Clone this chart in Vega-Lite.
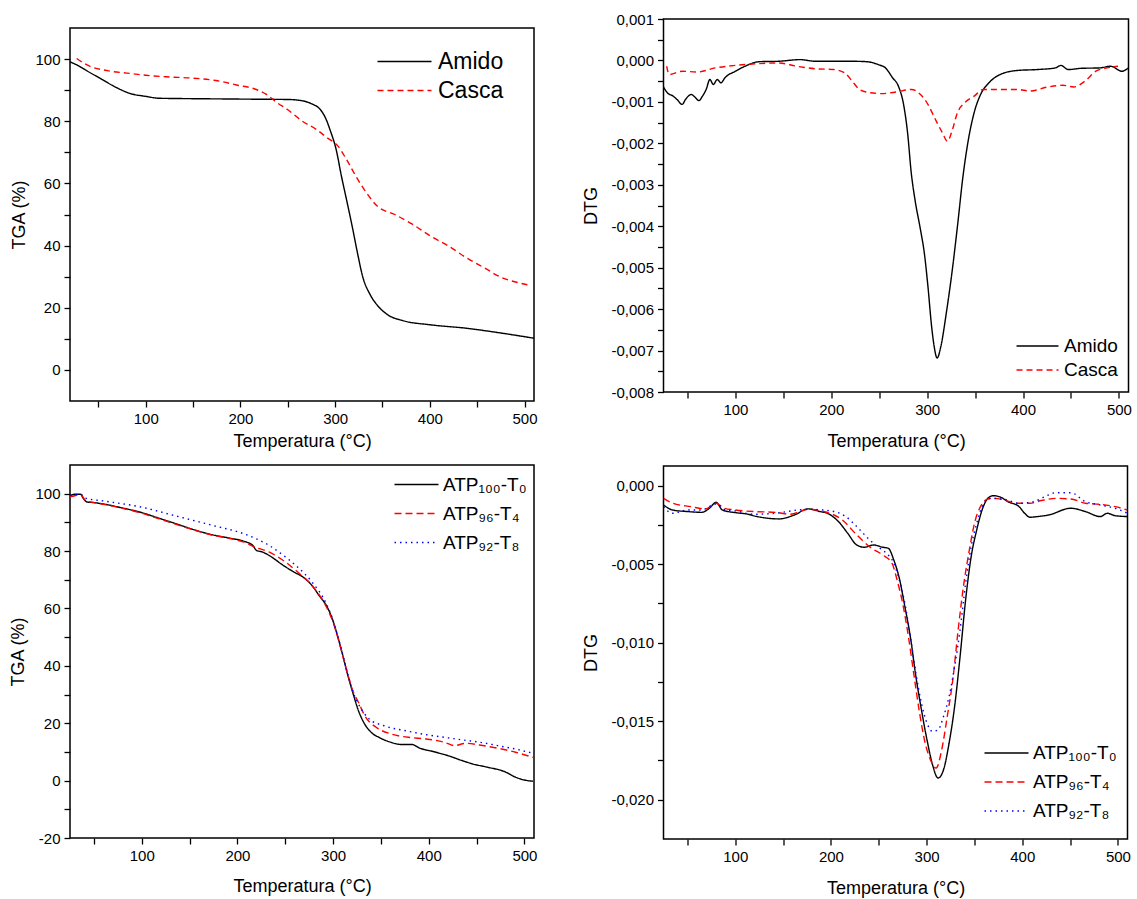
{
  "$schema": "https://vega.github.io/schema/vega-lite/v6.json",
  "background": "white",
  "padding": {"left": 9, "top": 11, "right": 0, "bottom": 0},
  "config": {
    "font": "Liberation Sans",
    "view": {"stroke": "black", "strokeWidth": 1.5},
    "axis": {
      "domain": false, "grid": false, "tickColor": "black", "tickWidth": 1.3, "tickSize": 6,
      "labelFont": "Liberation Sans", "labelFontSize": 15, "labelColor": "black", "labelPadding": 4,
      "labelFlush": false, "labelOverlap": false, "labelBound": false,
      "titleFont": "Liberation Sans", "titleFontSize": 18, "titleFontWeight": "normal", "titleColor": "black"
    },
    "legend": {
      "orient": "none", "direction": "vertical", "padding": 0, "labelFont": "Liberation Sans", "labelColor": "black",
      "symbolStrokeWidth": 1.5, "labelLimit": 300, "rowPadding": 0
    }
  },
  "datasets": {
    "tga1": [
      {"T":20,"v":99.1,"s":"Amido"},{"T":28,"v":98.0,"s":"Amido"},{"T":38,"v":96.2,"s":"Amido"},{"T":53.5,"v":93.5,"s":"Amido"},{"T":68.6,"v":90.9,"s":"Amido"},{"T":83.8,"v":88.9,"s":"Amido"},{"T":100,"v":88.0,"s":"Amido"},{"T":114,"v":87.4,"s":"Amido"},{"T":136.6,"v":87.3,"s":"Amido"},{"T":174,"v":87.2,"s":"Amido"},{"T":212,"v":87.1,"s":"Amido"},{"T":250,"v":87.0,"s":"Amido"},{"T":265,"v":86.6,"s":"Amido"},{"T":276,"v":85.5,"s":"Amido"},{"T":284,"v":83.9,"s":"Amido"},{"T":289.6,"v":81.2,"s":"Amido"},{"T":295,"v":76.9,"s":"Amido"},{"T":301,"v":71.0,"s":"Amido"},{"T":306.6,"v":62.4,"s":"Amido"},{"T":312,"v":54.8,"s":"Amido"},{"T":318,"v":46.2,"s":"Amido"},{"T":323.6,"v":37.6,"s":"Amido"},{"T":329,"v":30.1,"s":"Amido"},{"T":337,"v":24.2,"s":"Amido"},{"T":344,"v":21.0,"s":"Amido"},{"T":355.7,"v":17.7,"s":"Amido"},{"T":371,"v":15.9,"s":"Amido"},{"T":401,"v":14.5,"s":"Amido"},{"T":438.8,"v":13.4,"s":"Amido"},{"T":476.6,"v":11.8,"s":"Amido"},{"T":510,"v":10.2,"s":"Amido"},
      {"T":27,"v":100.2,"s":"Casca"},{"T":38,"v":98.1,"s":"Casca"},{"T":61,"v":96.2,"s":"Casca"},{"T":80,"v":95.5,"s":"Casca"},{"T":100,"v":94.8,"s":"Casca"},{"T":121.5,"v":94.3,"s":"Casca"},{"T":148,"v":93.9,"s":"Casca"},{"T":174,"v":93.1,"s":"Casca"},{"T":197,"v":91.6,"s":"Casca"},{"T":216,"v":90.3,"s":"Casca"},{"T":227,"v":88.7,"s":"Casca"},{"T":238.6,"v":86.0,"s":"Casca"},{"T":250,"v":83.7,"s":"Casca"},{"T":265,"v":80.1,"s":"Casca"},{"T":280,"v":77.4,"s":"Casca"},{"T":291.5,"v":74.7,"s":"Casca"},{"T":303,"v":72.0,"s":"Casca"},{"T":312,"v":67.7,"s":"Casca"},{"T":321.7,"v":62.4,"s":"Casca"},{"T":333,"v":57.0,"s":"Casca"},{"T":344.4,"v":52.7,"s":"Casca"},{"T":363,"v":50.0,"s":"Casca"},{"T":382,"v":46.8,"s":"Casca"},{"T":401,"v":43.0,"s":"Casca"},{"T":420,"v":39.8,"s":"Casca"},{"T":439,"v":36.0,"s":"Casca"},{"T":457.7,"v":32.8,"s":"Casca"},{"T":476.6,"v":29.6,"s":"Casca"},{"T":491.7,"v":28.2,"s":"Casca"},{"T":503,"v":27.4,"s":"Casca"}
    ],
    "dtg1": [
      {"T":25,"v":-0.00064,"s":"Amido"},{"T":29,"v":-0.00078,"s":"Amido"},{"T":35,"v":-0.00086,"s":"Amido"},{"T":39,"v":-0.00094,"s":"Amido"},{"T":44.5,"v":-0.00106,"s":"Amido"},{"T":48,"v":-0.00094,"s":"Amido"},{"T":54,"v":-0.00082,"s":"Amido"},{"T":58,"v":-0.00089,"s":"Amido"},{"T":62,"v":-0.00097,"s":"Amido"},{"T":65.7,"v":-0.00086,"s":"Amido"},{"T":69.5,"v":-0.0007,"s":"Amido"},{"T":73.4,"v":-0.00046,"s":"Amido"},{"T":77,"v":-0.00058,"s":"Amido"},{"T":81,"v":-0.00046,"s":"Amido"},{"T":85,"v":-0.00054,"s":"Amido"},{"T":89,"v":-0.00042,"s":"Amido"},{"T":100,"v":-0.00026,"s":"Amido"},{"T":110,"v":-0.00014,"s":"Amido"},{"T":125,"v":-0.00003,"s":"Amido"},{"T":144.7,"v":-0.00002,"s":"Amido"},{"T":167.8,"v":0.00002,"s":"Amido"},{"T":183,"v":-0.00002,"s":"Amido"},{"T":222,"v":-0.00002,"s":"Amido"},{"T":237,"v":-0.00003,"s":"Amido"},{"T":249,"v":-0.0001,"s":"Amido"},{"T":256.5,"v":-0.00018,"s":"Amido"},{"T":264,"v":-0.00042,"s":"Amido"},{"T":270,"v":-0.00062,"s":"Amido"},{"T":275.7,"v":-0.0011,"s":"Amido"},{"T":279.6,"v":-0.00175,"s":"Amido"},{"T":283.4,"v":-0.00271,"s":"Amido"},{"T":287.3,"v":-0.00336,"s":"Amido"},{"T":293,"v":-0.00408,"s":"Amido"},{"T":297,"v":-0.00464,"s":"Amido"},{"T":300.8,"v":-0.00545,"s":"Amido"},{"T":304.6,"v":-0.00641,"s":"Amido"},{"T":307.3,"v":-0.0069,"s":"Amido"},{"T":310.4,"v":-0.00718,"s":"Amido"},{"T":314.3,"v":-0.0069,"s":"Amido"},{"T":320,"v":-0.00609,"s":"Amido"},{"T":325.8,"v":-0.00513,"s":"Amido"},{"T":331.6,"v":-0.004,"s":"Amido"},{"T":337.4,"v":-0.00279,"s":"Amido"},{"T":343,"v":-0.00191,"s":"Amido"},{"T":349,"v":-0.00126,"s":"Amido"},{"T":356.6,"v":-0.00078,"s":"Amido"},{"T":364.4,"v":-0.00054,"s":"Amido"},{"T":376,"v":-0.00034,"s":"Amido"},{"T":395,"v":-0.00024,"s":"Amido"},{"T":414.5,"v":-0.00022,"s":"Amido"},{"T":433.7,"v":-0.00018,"s":"Amido"},{"T":439.5,"v":-0.00012,"s":"Amido"},{"T":447,"v":-0.00022,"s":"Amido"},{"T":460.7,"v":-0.00019,"s":"Amido"},{"T":480,"v":-0.00018,"s":"Amido"},{"T":491.5,"v":-0.00014,"s":"Amido"},{"T":503,"v":-0.00026,"s":"Amido"},{"T":510,"v":-0.00018,"s":"Amido"},
      {"T":28.3,"v":-0.00014,"s":"Casca"},{"T":31,"v":-0.00034,"s":"Casca"},{"T":44.5,"v":-0.00026,"s":"Casca"},{"T":60,"v":-0.00028,"s":"Casca"},{"T":79,"v":-0.00018,"s":"Casca"},{"T":100,"v":-0.00012,"s":"Casca"},{"T":121.6,"v":-0.00008,"s":"Casca"},{"T":144.7,"v":-0.00006,"s":"Casca"},{"T":164,"v":-0.00014,"s":"Casca"},{"T":183,"v":-0.0002,"s":"Casca"},{"T":202.5,"v":-0.00022,"s":"Casca"},{"T":214,"v":-0.0003,"s":"Casca"},{"T":221.8,"v":-0.0005,"s":"Casca"},{"T":229.5,"v":-0.0007,"s":"Casca"},{"T":241,"v":-0.00078,"s":"Casca"},{"T":252.6,"v":-0.0008,"s":"Casca"},{"T":268,"v":-0.00076,"s":"Casca"},{"T":283.4,"v":-0.0007,"s":"Casca"},{"T":293,"v":-0.00082,"s":"Casca"},{"T":300.8,"v":-0.00106,"s":"Casca"},{"T":308.5,"v":-0.00142,"s":"Casca"},{"T":316,"v":-0.00175,"s":"Casca"},{"T":321.2,"v":-0.00195,"s":"Casca"},{"T":325.8,"v":-0.00171,"s":"Casca"},{"T":331.6,"v":-0.00126,"s":"Casca"},{"T":339.3,"v":-0.00102,"s":"Casca"},{"T":349,"v":-0.00086,"s":"Casca"},{"T":358.6,"v":-0.0007,"s":"Casca"},{"T":376,"v":-0.0007,"s":"Casca"},{"T":395,"v":-0.0007,"s":"Casca"},{"T":406.7,"v":-0.00074,"s":"Casca"},{"T":426,"v":-0.00064,"s":"Casca"},{"T":441.4,"v":-0.0006,"s":"Casca"},{"T":453,"v":-0.00064,"s":"Casca"},{"T":464.5,"v":-0.0005,"s":"Casca"},{"T":476,"v":-0.00026,"s":"Casca"},{"T":487.7,"v":-0.00018,"s":"Casca"},{"T":499,"v":-0.00014,"s":"Casca"}
    ],
    "tga2": [
      {"T":25.4,"v":99.4,"s":"ATP₁₀₀-T₀"},{"T":30,"v":99.8,"s":"ATP₁₀₀-T₀"},{"T":36,"v":99.8,"s":"ATP₁₀₀-T₀"},{"T":39,"v":98.3,"s":"ATP₁₀₀-T₀"},{"T":43,"v":97.1,"s":"ATP₁₀₀-T₀"},{"T":50,"v":96.9,"s":"ATP₁₀₀-T₀"},{"T":61.6,"v":96.3,"s":"ATP₁₀₀-T₀"},{"T":80,"v":95.0,"s":"ATP₁₀₀-T₀"},{"T":100,"v":93.4,"s":"ATP₁₀₀-T₀"},{"T":117.5,"v":91.5,"s":"ATP₁₀₀-T₀"},{"T":136,"v":89.5,"s":"ATP₁₀₀-T₀"},{"T":155,"v":87.4,"s":"ATP₁₀₀-T₀"},{"T":173.5,"v":85.7,"s":"ATP₁₀₀-T₀"},{"T":192,"v":84.5,"s":"ATP₁₀₀-T₀"},{"T":207,"v":83.4,"s":"ATP₁₀₀-T₀"},{"T":216,"v":82.0,"s":"ATP₁₀₀-T₀"},{"T":220,"v":80.2,"s":"ATP₁₀₀-T₀"},{"T":226,"v":79.7,"s":"ATP₁₀₀-T₀"},{"T":233,"v":78.5,"s":"ATP₁₀₀-T₀"},{"T":248,"v":75.0,"s":"ATP₁₀₀-T₀"},{"T":259,"v":72.7,"s":"ATP₁₀₀-T₀"},{"T":268.7,"v":70.9,"s":"ATP₁₀₀-T₀"},{"T":278,"v":68.0,"s":"ATP₁₀₀-T₀"},{"T":285.4,"v":64.5,"s":"ATP₁₀₀-T₀"},{"T":293,"v":61.0,"s":"ATP₁₀₀-T₀"},{"T":298.5,"v":57.0,"s":"ATP₁₀₀-T₀"},{"T":304,"v":51.2,"s":"ATP₁₀₀-T₀"},{"T":309.7,"v":44.2,"s":"ATP₁₀₀-T₀"},{"T":315,"v":37.2,"s":"ATP₁₀₀-T₀"},{"T":321,"v":30.2,"s":"ATP₁₀₀-T₀"},{"T":326.5,"v":24.4,"s":"ATP₁₀₀-T₀"},{"T":332,"v":20.3,"s":"ATP₁₀₀-T₀"},{"T":339.6,"v":16.9,"s":"ATP₁₀₀-T₀"},{"T":349,"v":14.9,"s":"ATP₁₀₀-T₀"},{"T":360,"v":13.4,"s":"ATP₁₀₀-T₀"},{"T":371,"v":12.6,"s":"ATP₁₀₀-T₀"},{"T":382.5,"v":12.6,"s":"ATP₁₀₀-T₀"},{"T":390,"v":11.4,"s":"ATP₁₀₀-T₀"},{"T":405,"v":10.1,"s":"ATP₁₀₀-T₀"},{"T":420,"v":8.7,"s":"ATP₁₀₀-T₀"},{"T":434.7,"v":7.0,"s":"ATP₁₀₀-T₀"},{"T":446,"v":5.8,"s":"ATP₁₀₀-T₀"},{"T":461,"v":4.7,"s":"ATP₁₀₀-T₀"},{"T":479.5,"v":3.1,"s":"ATP₁₀₀-T₀"},{"T":490.7,"v":1.2,"s":"ATP₁₀₀-T₀"},{"T":500,"v":0.2,"s":"ATP₁₀₀-T₀"},{"T":509,"v":-0.2,"s":"ATP₁₀₀-T₀"},
      {"T":25.4,"v":99.0,"s":"ATP₉₆-T₄"},{"T":30,"v":99.3,"s":"ATP₉₆-T₄"},{"T":36,"v":99.8,"s":"ATP₉₆-T₄"},{"T":41,"v":97.7,"s":"ATP₉₆-T₄"},{"T":50,"v":96.9,"s":"ATP₉₆-T₄"},{"T":61.6,"v":96.2,"s":"ATP₉₆-T₄"},{"T":80,"v":94.9,"s":"ATP₉₆-T₄"},{"T":100,"v":93.2,"s":"ATP₉₆-T₄"},{"T":117.5,"v":91.3,"s":"ATP₉₆-T₄"},{"T":136,"v":89.3,"s":"ATP₉₆-T₄"},{"T":155,"v":87.3,"s":"ATP₉₆-T₄"},{"T":173.5,"v":85.6,"s":"ATP₉₆-T₄"},{"T":192,"v":84.4,"s":"ATP₉₆-T₄"},{"T":207,"v":83.1,"s":"ATP₉₆-T₄"},{"T":218,"v":81.4,"s":"ATP₉₆-T₄"},{"T":233,"v":79.7,"s":"ATP₉₆-T₄"},{"T":248,"v":76.7,"s":"ATP₉₆-T₄"},{"T":263,"v":72.7,"s":"ATP₉₆-T₄"},{"T":278,"v":68.0,"s":"ATP₉₆-T₄"},{"T":293,"v":60.5,"s":"ATP₉₆-T₄"},{"T":298.5,"v":56.5,"s":"ATP₉₆-T₄"},{"T":304,"v":51.0,"s":"ATP₉₆-T₄"},{"T":309.7,"v":44.0,"s":"ATP₉₆-T₄"},{"T":315,"v":37.5,"s":"ATP₉₆-T₄"},{"T":321,"v":31.0,"s":"ATP₉₆-T₄"},{"T":326.5,"v":27.3,"s":"ATP₉₆-T₄"},{"T":334,"v":22.1,"s":"ATP₉₆-T₄"},{"T":345,"v":18.6,"s":"ATP₉₆-T₄"},{"T":360,"v":16.3,"s":"ATP₉₆-T₄"},{"T":378.7,"v":15.1,"s":"ATP₉₆-T₄"},{"T":397.4,"v":14.5,"s":"ATP₉₆-T₄"},{"T":416,"v":13.4,"s":"ATP₉₆-T₄"},{"T":427,"v":12.2,"s":"ATP₉₆-T₄"},{"T":438.4,"v":13.0,"s":"ATP₉₆-T₄"},{"T":453,"v":12.4,"s":"ATP₉₆-T₄"},{"T":472,"v":11.3,"s":"ATP₉₆-T₄"},{"T":490.7,"v":9.9,"s":"ATP₉₆-T₄"},{"T":509,"v":8.1,"s":"ATP₉₆-T₄"},
      {"T":25.4,"v":99.4,"s":"ATP₉₂-T₈"},{"T":36,"v":99.8,"s":"ATP₉₂-T₈"},{"T":41,"v":98.5,"s":"ATP₉₂-T₈"},{"T":61.6,"v":97.4,"s":"ATP₉₂-T₈"},{"T":100,"v":95.3,"s":"ATP₉₂-T₈"},{"T":136,"v":92.2,"s":"ATP₉₂-T₈"},{"T":173.5,"v":89.0,"s":"ATP₉₂-T₈"},{"T":211,"v":85.5,"s":"ATP₉₂-T₈"},{"T":233,"v":82.0,"s":"ATP₉₂-T₈"},{"T":248,"v":78.5,"s":"ATP₉₂-T₈"},{"T":263,"v":74.4,"s":"ATP₉₂-T₈"},{"T":278,"v":69.2,"s":"ATP₉₂-T₈"},{"T":293,"v":61.6,"s":"ATP₉₂-T₈"},{"T":298.5,"v":57.3,"s":"ATP₉₂-T₈"},{"T":304,"v":51.4,"s":"ATP₉₂-T₈"},{"T":309.7,"v":44.4,"s":"ATP₉₂-T₈"},{"T":315,"v":37.6,"s":"ATP₉₂-T₈"},{"T":321,"v":30.8,"s":"ATP₉₂-T₈"},{"T":326.5,"v":26.7,"s":"ATP₉₂-T₈"},{"T":337.7,"v":21.5,"s":"ATP₉₂-T₈"},{"T":352.6,"v":19.2,"s":"ATP₉₂-T₈"},{"T":378.7,"v":17.2,"s":"ATP₉₂-T₈"},{"T":397.4,"v":16.0,"s":"ATP₉₂-T₈"},{"T":416,"v":15.1,"s":"ATP₉₂-T₈"},{"T":434.7,"v":14.2,"s":"ATP₉₂-T₈"},{"T":453,"v":13.4,"s":"ATP₉₂-T₈"},{"T":472,"v":12.2,"s":"ATP₉₂-T₈"},{"T":490.7,"v":11.0,"s":"ATP₉₂-T₈"},{"T":509,"v":9.5,"s":"ATP₉₂-T₈"}
    ],
    "dtg2": [
      {"T":25,"v":-0.00123,"s":"ATP₁₀₀-T₀"},{"T":34.5,"v":-0.00155,"s":"ATP₁₀₀-T₀"},{"T":50,"v":-0.00165,"s":"ATP₁₀₀-T₀"},{"T":65,"v":-0.0017,"s":"ATP₁₀₀-T₀"},{"T":73,"v":-0.00144,"s":"ATP₁₀₀-T₀"},{"T":80,"v":-0.00106,"s":"ATP₁₀₀-T₀"},{"T":86.5,"v":-0.00155,"s":"ATP₁₀₀-T₀"},{"T":100,"v":-0.00172,"s":"ATP₁₀₀-T₀"},{"T":111.6,"v":-0.0018,"s":"ATP₁₀₀-T₀"},{"T":123,"v":-0.00197,"s":"ATP₁₀₀-T₀"},{"T":146,"v":-0.00212,"s":"ATP₁₀₀-T₀"},{"T":161.7,"v":-0.00187,"s":"ATP₁₀₀-T₀"},{"T":176.3,"v":-0.00148,"s":"ATP₁₀₀-T₀"},{"T":188.6,"v":-0.00165,"s":"ATP₁₀₀-T₀"},{"T":196.3,"v":-0.00176,"s":"ATP₁₀₀-T₀"},{"T":207.9,"v":-0.00229,"s":"ATP₁₀₀-T₀"},{"T":217.5,"v":-0.00303,"s":"ATP₁₀₀-T₀"},{"T":227,"v":-0.00378,"s":"ATP₁₀₀-T₀"},{"T":234.9,"v":-0.00392,"s":"ATP₁₀₀-T₀"},{"T":244.5,"v":-0.00378,"s":"ATP₁₀₀-T₀"},{"T":254,"v":-0.00392,"s":"ATP₁₀₀-T₀"},{"T":260,"v":-0.00399,"s":"ATP₁₀₀-T₀"},{"T":265.7,"v":-0.00473,"s":"ATP₁₀₀-T₀"},{"T":271.5,"v":-0.0059,"s":"ATP₁₀₀-T₀"},{"T":277.3,"v":-0.0077,"s":"ATP₁₀₀-T₀"},{"T":283,"v":-0.00961,"s":"ATP₁₀₀-T₀"},{"T":288.8,"v":-0.01215,"s":"ATP₁₀₀-T₀"},{"T":294.6,"v":-0.01427,"s":"ATP₁₀₀-T₀"},{"T":300.4,"v":-0.01618,"s":"ATP₁₀₀-T₀"},{"T":306.2,"v":-0.01777,"s":"ATP₁₀₀-T₀"},{"T":312,"v":-0.01862,"s":"ATP₁₀₀-T₀"},{"T":317.7,"v":-0.01809,"s":"ATP₁₀₀-T₀"},{"T":323.5,"v":-0.0164,"s":"ATP₁₀₀-T₀"},{"T":329.3,"v":-0.01406,"s":"ATP₁₀₀-T₀"},{"T":335,"v":-0.01088,"s":"ATP₁₀₀-T₀"},{"T":340.8,"v":-0.00727,"s":"ATP₁₀₀-T₀"},{"T":346.6,"v":-0.00452,"s":"ATP₁₀₀-T₀"},{"T":352.4,"v":-0.00282,"s":"ATP₁₀₀-T₀"},{"T":358,"v":-0.00155,"s":"ATP₁₀₀-T₀"},{"T":364,"v":-0.00081,"s":"ATP₁₀₀-T₀"},{"T":369.7,"v":-0.00064,"s":"ATP₁₀₀-T₀"},{"T":377.5,"v":-0.00074,"s":"ATP₁₀₀-T₀"},{"T":385,"v":-0.00102,"s":"ATP₁₀₀-T₀"},{"T":396.7,"v":-0.00134,"s":"ATP₁₀₀-T₀"},{"T":402.5,"v":-0.00176,"s":"ATP₁₀₀-T₀"},{"T":408,"v":-0.00201,"s":"ATP₁₀₀-T₀"},{"T":416,"v":-0.00197,"s":"ATP₁₀₀-T₀"},{"T":427.5,"v":-0.00187,"s":"ATP₁₀₀-T₀"},{"T":450.7,"v":-0.00144,"s":"ATP₁₀₀-T₀"},{"T":466,"v":-0.00165,"s":"ATP₁₀₀-T₀"},{"T":481.5,"v":-0.00197,"s":"ATP₁₀₀-T₀"},{"T":489,"v":-0.00176,"s":"ATP₁₀₀-T₀"},{"T":496.8,"v":-0.00191,"s":"ATP₁₀₀-T₀"},{"T":510,"v":-0.00197,"s":"ATP₁₀₀-T₀"},
      {"T":25,"v":-0.00081,"s":"ATP₉₆-T₄"},{"T":34.5,"v":-0.00112,"s":"ATP₉₆-T₄"},{"T":53.8,"v":-0.00134,"s":"ATP₉₆-T₄"},{"T":69,"v":-0.00148,"s":"ATP₉₆-T₄"},{"T":80,"v":-0.00112,"s":"ATP₉₆-T₄"},{"T":88.4,"v":-0.00144,"s":"ATP₉₆-T₄"},{"T":100,"v":-0.00155,"s":"ATP₉₆-T₄"},{"T":119,"v":-0.00165,"s":"ATP₉₆-T₄"},{"T":142,"v":-0.0017,"s":"ATP₉₆-T₄"},{"T":157.8,"v":-0.00182,"s":"ATP₉₆-T₄"},{"T":176,"v":-0.00151,"s":"ATP₉₆-T₄"},{"T":192.5,"v":-0.00165,"s":"ATP₉₆-T₄"},{"T":211.8,"v":-0.00218,"s":"ATP₉₆-T₄"},{"T":227,"v":-0.00314,"s":"ATP₉₆-T₄"},{"T":242.6,"v":-0.00399,"s":"ATP₉₆-T₄"},{"T":254,"v":-0.00441,"s":"ATP₉₆-T₄"},{"T":263.8,"v":-0.00494,"s":"ATP₉₆-T₄"},{"T":269.6,"v":-0.00611,"s":"ATP₉₆-T₄"},{"T":275,"v":-0.00749,"s":"ATP₉₆-T₄"},{"T":281,"v":-0.00961,"s":"ATP₉₆-T₄"},{"T":287,"v":-0.01215,"s":"ATP₉₆-T₄"},{"T":292.7,"v":-0.01449,"s":"ATP₉₆-T₄"},{"T":298.5,"v":-0.01639,"s":"ATP₉₆-T₄"},{"T":304,"v":-0.01745,"s":"ATP₉₆-T₄"},{"T":310,"v":-0.01798,"s":"ATP₉₆-T₄"},{"T":315.8,"v":-0.01682,"s":"ATP₉₆-T₄"},{"T":321.6,"v":-0.0147,"s":"ATP₉₆-T₄"},{"T":327.4,"v":-0.01236,"s":"ATP₉₆-T₄"},{"T":333,"v":-0.00918,"s":"ATP₉₆-T₄"},{"T":339,"v":-0.00621,"s":"ATP₉₆-T₄"},{"T":344.7,"v":-0.00409,"s":"ATP₉₆-T₄"},{"T":350.5,"v":-0.00229,"s":"ATP₉₆-T₄"},{"T":356.3,"v":-0.00134,"s":"ATP₉₆-T₄"},{"T":362,"v":-0.00091,"s":"ATP₉₆-T₄"},{"T":369.7,"v":-0.00081,"s":"ATP₉₆-T₄"},{"T":381,"v":-0.00091,"s":"ATP₉₆-T₄"},{"T":393,"v":-0.00112,"s":"ATP₉₆-T₄"},{"T":408,"v":-0.00112,"s":"ATP₉₆-T₄"},{"T":420,"v":-0.00095,"s":"ATP₉₆-T₄"},{"T":435,"v":-0.00081,"s":"ATP₉₆-T₄"},{"T":450.7,"v":-0.00085,"s":"ATP₉₆-T₄"},{"T":466,"v":-0.00112,"s":"ATP₉₆-T₄"},{"T":481.5,"v":-0.00119,"s":"ATP₉₆-T₄"},{"T":497,"v":-0.00134,"s":"ATP₉₆-T₄"},{"T":510,"v":-0.00155,"s":"ATP₉₆-T₄"},
      {"T":25,"v":-0.00134,"s":"ATP₉₂-T₈"},{"T":34.5,"v":-0.00176,"s":"ATP₉₂-T₈"},{"T":50,"v":-0.00155,"s":"ATP₉₂-T₈"},{"T":65,"v":-0.00155,"s":"ATP₉₂-T₈"},{"T":80,"v":-0.00117,"s":"ATP₉₂-T₈"},{"T":90,"v":-0.00155,"s":"ATP₉₂-T₈"},{"T":100,"v":-0.00161,"s":"ATP₉₂-T₈"},{"T":119,"v":-0.00182,"s":"ATP₉₂-T₈"},{"T":142,"v":-0.00176,"s":"ATP₉₂-T₈"},{"T":165.5,"v":-0.00155,"s":"ATP₉₂-T₈"},{"T":177,"v":-0.00151,"s":"ATP₉₂-T₈"},{"T":200,"v":-0.00161,"s":"ATP₉₂-T₈"},{"T":215.6,"v":-0.00197,"s":"ATP₉₂-T₈"},{"T":227,"v":-0.00261,"s":"ATP₉₂-T₈"},{"T":238.7,"v":-0.00335,"s":"ATP₉₂-T₈"},{"T":246.4,"v":-0.00378,"s":"ATP₉₂-T₈"},{"T":258,"v":-0.00431,"s":"ATP₉₂-T₈"},{"T":265.7,"v":-0.00494,"s":"ATP₉₂-T₈"},{"T":271.5,"v":-0.00601,"s":"ATP₉₂-T₈"},{"T":277.3,"v":-0.00749,"s":"ATP₉₂-T₈"},{"T":283,"v":-0.00961,"s":"ATP₉₂-T₈"},{"T":288.8,"v":-0.01194,"s":"ATP₉₂-T₈"},{"T":294.6,"v":-0.01385,"s":"ATP₉₂-T₈"},{"T":300.4,"v":-0.01512,"s":"ATP₉₂-T₈"},{"T":306.2,"v":-0.01565,"s":"ATP₉₂-T₈"},{"T":312,"v":-0.01555,"s":"ATP₉₂-T₈"},{"T":317.7,"v":-0.0147,"s":"ATP₉₂-T₈"},{"T":323.5,"v":-0.01343,"s":"ATP₉₂-T₈"},{"T":329.3,"v":-0.01152,"s":"ATP₉₂-T₈"},{"T":335,"v":-0.00918,"s":"ATP₉₂-T₈"},{"T":340.8,"v":-0.00621,"s":"ATP₉₂-T₈"},{"T":346.6,"v":-0.00388,"s":"ATP₉₂-T₈"},{"T":352.4,"v":-0.0024,"s":"ATP₉₂-T₈"},{"T":358,"v":-0.00134,"s":"ATP₉₂-T₈"},{"T":366,"v":-0.00081,"s":"ATP₉₂-T₈"},{"T":381,"v":-0.00087,"s":"ATP₉₂-T₈"},{"T":396.7,"v":-0.00112,"s":"ATP₉₂-T₈"},{"T":412,"v":-0.00102,"s":"ATP₉₂-T₈"},{"T":423.7,"v":-0.0007,"s":"ATP₉₂-T₈"},{"T":435,"v":-0.00045,"s":"ATP₉₂-T₈"},{"T":450.7,"v":-0.00045,"s":"ATP₉₂-T₈"},{"T":466,"v":-0.00102,"s":"ATP₉₂-T₈"},{"T":481.5,"v":-0.00123,"s":"ATP₉₂-T₈"},{"T":497,"v":-0.00144,"s":"ATP₉₂-T₈"},{"T":510,"v":-0.00176,"s":"ATP₉₂-T₈"}
    ]
  },
  "spacing": 43.5,
  "resolve": {"scale": {"color": "independent", "strokeDash": "independent"}, "legend": {"color": "independent", "strokeDash": "independent"}},
  "hconcat": [
    {
      "spacing": 13,
      "resolve": {"scale": {"color": "independent", "strokeDash": "independent"}, "legend": {"color": "independent", "strokeDash": "independent"}},
      "vconcat": [
        {
          "spacing": 0,
          "resolve": {"scale": {"color": "independent", "strokeDash": "independent"}, "legend": {"color": "independent", "strokeDash": "independent"}},
          "vconcat": [
            {
              "width": 464, "height": 7,
              "view": {"stroke": "transparent"},
              "data": {"values": []},
              "mark": {"type": "point", "opacity": 0},
              "encoding": {}
            },
            {
              "width": 464, "height": 373,
              "data": {"name": "tga1"},
              "mark": {"type": "line", "strokeWidth": 1.4, "clip": true, "interpolate": "monotone"},
              "encoding": {
                "x": {"field": "T", "type": "quantitative", "scale": {"domain": [20, 510], "nice": false, "zero": false},
                  "axis": {"title": "Temperatura (°C)", "titlePadding": 6, "values": [50,100,150,200,250,300,350,400,450,500],
                    "labelExpr": "datum.value % 100 === 0 ? datum.label : ''",
                    "encode": {"ticks": {"update": {"y2": {"signal": "datum.value % 100 === 0 ? 6 : 3.5"}}}}}},
                "y": {"field": "v", "type": "quantitative", "scale": {"domain": [-10, 110], "nice": false, "zero": false},
                  "axis": {"title": "TGA (%)", "titlePadding": 6, "values": [0,10,20,30,40,50,60,70,80,90,100],
                    "labelExpr": "datum.value % 20 === 0 ? datum.label : ''",
                    "encode": {"ticks": {"update": {"x2": {"signal": "datum.value % 20 === 0 ? -6 : -3.5"}}}}}},
                "color": {"field": "s", "type": "nominal", "scale": {"domain": ["Amido", "Casca"], "range": ["#000000", "#ff0000"]},
                  "legend": {"title": null, "legendX": 306.5, "legendY": 16.5, "labelFontSize": 23, "symbolType": "M-1,0L2.375,0", "symbolSize": 1024, "labelOffset": 27.5}},
                "strokeDash": {"field": "s", "type": "nominal", "scale": {"domain": ["Amido", "Casca"], "range": [[1, 0], [6, 4]]},
                  "legend": {"title": null, "legendX": 306.5, "legendY": 16.5, "labelFontSize": 23, "symbolType": "M-1,0L2.375,0", "symbolSize": 1024, "labelOffset": 27.5}}
              }
            }
          ]
        },
        {
          "width": 464, "height": 373,
          "data": {"name": "tga2"},
          "mark": {"type": "line", "strokeWidth": 1.4, "clip": true, "interpolate": "monotone"},
          "encoding": {
            "x": {"field": "T", "type": "quantitative", "scale": {"domain": [25, 510], "nice": false, "zero": false},
              "axis": {"title": "Temperatura (°C)", "titlePadding": 14, "values": [50,100,150,200,250,300,350,400,450,500],
                "labelExpr": "datum.value % 100 === 0 ? datum.label : ''",
                "encode": {"ticks": {"update": {"y2": {"signal": "datum.value % 100 === 0 ? 6 : 3.5"}}}}}},
            "y": {"field": "v", "type": "quantitative", "scale": {"domain": [-20, 110], "nice": false, "zero": false},
              "axis": {"title": "TGA (%)", "titlePadding": 7, "values": [-20,-10,0,10,20,30,40,50,60,70,80,90,100],
                "labelExpr": "datum.value % 20 === 0 ? replace(format(datum.value, 'd'), '\u2212', '-') : ''",
                "encode": {"ticks": {"update": {"x2": {"signal": "datum.value % 20 === 0 ? -6 : -3.5"}}}}}},
            "color": {"field": "s", "type": "nominal", "scale": {"domain": ["ATP₁₀₀-T₀", "ATP₉₆-T₄", "ATP₉₂-T₈"], "range": ["#000000", "#ff0000", "#0000ff"]},
              "legend": {"title": null, "legendX": 323.5, "legendY": 0.5, "labelFontSize": 19, "symbolType": "M-1,0L1.444,0", "symbolSize": 1296, "labelOffset": 11.5}},
            "strokeDash": {"field": "s", "type": "nominal", "scale": {"domain": ["ATP₁₀₀-T₀", "ATP₉₆-T₄", "ATP₉₂-T₈"], "range": [[1, 0], [7, 4], [1.5, 4]]},
              "legend": {"title": null, "legendX": 323.5, "legendY": 0.5, "labelFontSize": 19, "symbolType": "M-1,0L1.444,0", "symbolSize": 1296, "labelOffset": 11.5}}
          }
        }
      ]
    },
    {
      "spacing": 14,
      "resolve": {"scale": {"color": "independent", "strokeDash": "independent"}, "legend": {"color": "independent", "strokeDash": "independent"}},
      "vconcat": [
        {
          "width": 465, "height": 373,
          "data": {"name": "dtg1"},
          "mark": {"type": "line", "strokeWidth": 1.4, "clip": true, "interpolate": "monotone"},
          "encoding": {
            "x": {"field": "T", "type": "quantitative", "scale": {"domain": [25, 510], "nice": false, "zero": false},
              "axis": {"title": "Temperatura (°C)", "titlePadding": 15, "values": [50,100,150,200,250,300,350,400,450,500],
                "labelExpr": "datum.value % 100 === 0 ? datum.label : ''",
                "encode": {"ticks": {"update": {"y2": {"signal": "datum.value % 100 === 0 ? 6 : 3.5"}}}}}},
            "y": {"field": "v", "type": "quantitative", "scale": {"domain": [-0.008, 0.001], "nice": false, "zero": false},
              "axis": {"title": "DTG", "titlePadding": 10,
                "values": [0.001,0.0005,0,-0.0005,-0.001,-0.0015,-0.002,-0.0025,-0.003,-0.0035,-0.004,-0.0045,-0.005,-0.0055,-0.006,-0.0065,-0.007,-0.0075,-0.008],
                "labelExpr": "abs(round(datum.value*1000) - datum.value*1000) < 0.01 ? replace(replace(format(datum.value, '.3f'), '.', ','), '\u2212', '-') : ''",
                "encode": {"ticks": {"update": {"x2": {"signal": "abs(round(datum.value*1000) - datum.value*1000) < 0.01 ? -6 : -3.5"}}}}}},
            "color": {"field": "s", "type": "nominal", "scale": {"domain": ["Amido", "Casca"], "range": ["#000000", "#ff0000"]},
              "legend": {"title": null, "legendX": 352, "legendY": 313, "labelFontSize": 19, "symbolType": "M-1,0L2.2308,0", "symbolSize": 676, "labelOffset": 20.5}},
            "strokeDash": {"field": "s", "type": "nominal", "scale": {"domain": ["Amido", "Casca"], "range": [[1, 0], [6, 4]]},
              "legend": {"title": null, "legendX": 352, "legendY": 313, "labelFontSize": 19, "symbolType": "M-1,0L2.2308,0", "symbolSize": 676, "labelOffset": 20.5}}
          }
        },
        {
          "width": 464, "height": 373,
          "data": {"name": "dtg2"},
          "mark": {"type": "line", "strokeWidth": 1.4, "clip": true, "interpolate": "monotone"},
          "encoding": {
            "x": {"field": "T", "type": "quantitative", "scale": {"domain": [25, 510], "nice": false, "zero": false},
              "axis": {"title": "Temperatura (°C)", "titlePadding": 15, "values": [50,100,150,200,250,300,350,400,450,500],
                "labelExpr": "datum.value % 100 === 0 ? datum.label : ''",
                "encode": {"ticks": {"update": {"y2": {"signal": "datum.value % 100 === 0 ? 6 : 3.5"}}}}}},
            "y": {"field": "v", "type": "quantitative", "scale": {"domain": [-0.0225, 0.00125], "nice": false, "zero": false},
              "axis": {"title": "DTG", "titlePadding": 10,
                "values": [0,-0.0025,-0.005,-0.0075,-0.01,-0.0125,-0.015,-0.0175,-0.02],
                "labelExpr": "abs(round(datum.value*200) - datum.value*200) < 0.01 ? replace(replace(format(datum.value, '.3f'), '.', ','), '\u2212', '-') : ''",
                "encode": {"ticks": {"update": {"x2": {"signal": "abs(round(datum.value*200) - datum.value*200) < 0.01 ? -6 : -3.5"}}}}}},
            "color": {"field": "s", "type": "nominal", "scale": {"domain": ["ATP₁₀₀-T₀", "ATP₉₆-T₄", "ATP₉₂-T₈"], "range": ["#000000", "#ff0000", "#0000ff"]},
              "legend": {"title": null, "legendX": 320, "legendY": 268, "labelFontSize": 19, "symbolType": "M-1,0L1.444,0", "symbolSize": 1296, "labelOffset": 11.5}},
            "strokeDash": {"field": "s", "type": "nominal", "scale": {"domain": ["ATP₁₀₀-T₀", "ATP₉₆-T₄", "ATP₉₂-T₈"], "range": [[1, 0], [7, 4], [1.5, 4]]},
              "legend": {"title": null, "legendX": 320, "legendY": 268, "labelFontSize": 19, "symbolType": "M-1,0L1.444,0", "symbolSize": 1296, "labelOffset": 11.5}}
          }
        }
      ]
    }
  ]
}
